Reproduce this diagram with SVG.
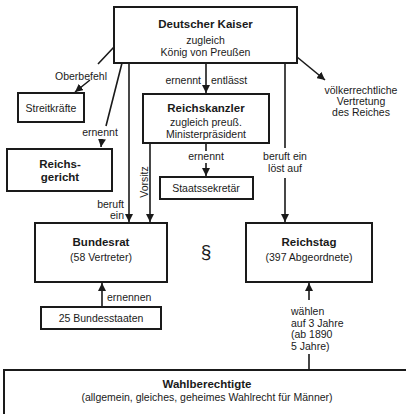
<svg xmlns="http://www.w3.org/2000/svg" width="406" height="414" viewBox="0 0 406 414">
<style>
.box{fill:#fff;stroke:#1a1a1a;stroke-width:2}
.ln{fill:none;stroke:#1a1a1a;stroke-width:1.6}
text{font-family:"Liberation Sans",Arial,sans-serif;font-size:10.5px;fill:#1a1a1a}
.b{font-weight:bold;font-size:11.5px}
.m{text-anchor:middle}
.e{text-anchor:end}
</style>
<defs>
<marker id="ah" markerUnits="userSpaceOnUse" markerWidth="9" markerHeight="8" refX="8" refY="4" orient="auto">
<path d="M0,0 L8,4 L0,8 z" fill="#1a1a1a"/>
</marker>
</defs>
<rect width="406" height="414" fill="#fff"/>
<g id="connectors">
<path class="ln" d="M114,47 L98,64 M90,80 L75,92" marker-end="url(#ah)"/>
<path class="ln" d="M122,63 L106,126 M102,139 L101,147" marker-end="url(#ah)"/>
<path class="ln" d="M129,63 L129,222" marker-end="url(#ah)"/>
<path class="ln" d="M150,143 L150,222" marker-end="url(#ah)"/>
<path class="ln" d="M206,63 L206,93" marker-end="url(#ah)"/>
<path class="ln" d="M206,143 L206,151 M206,163 L206,176" marker-end="url(#ah)"/>
<path class="ln" d="M285,63 L285,148 M285,178 L285,222" marker-end="url(#ah)"/>
<path class="ln" d="M297,57 L325,80" marker-end="url(#ah)"/>
<path class="ln" d="M102,307 L102,283" marker-end="url(#ah)"/>
<path class="ln" d="M309,370 L309,354 M309,300 L309,283" marker-end="url(#ah)"/>
<text x="81" y="80" class="m">Oberbefehl</text>
<text x="100" y="136" class="m">ernennt</text>
<text x="124" y="208" class="e">beruft</text>
<text x="124" y="219" class="e">ein</text>
<text transform="translate(148,182) rotate(-90)" class="m">Vorsitz</text>
<text x="201" y="84" class="e">ernennt</text>
<text x="211" y="84">entlässt</text>
<text x="206" y="160" class="m">ernennt</text>
<text x="285" y="160" class="m">beruft ein</text>
<text x="285" y="172" class="m">löst auf</text>
<text x="107" y="301">ernennen</text>
<text x="291" y="315">wählen</text>
<text x="291" y="327">auf 3 Jahre</text>
<text x="291" y="338">(ab 1890</text>
<text x="291" y="350">5 Jahre)</text>
</g>
<g id="kaiser">
<rect class="box" x="114" y="7" width="183" height="56"/>
<text x="205.5" y="28" class="m b">Deutscher Kaiser</text>
<text x="205.5" y="44" class="m">zugleich</text>
<text x="205.5" y="56" class="m">König von Preußen</text>
</g>
<g id="streitkraefte">
<rect class="box" x="18" y="93" width="66" height="29"/>
<text x="51" y="112" class="m">Streitkräfte</text>
</g>
<g id="voelkerrecht">
<text x="361" y="94" class="m">völkerrechtliche</text>
<text x="361" y="105" class="m">Vertretung</text>
<text x="361" y="116" class="m">des Reiches</text>
</g>
<g id="reichskanzler">
<rect class="box" x="143" y="94" width="126" height="49"/>
<text x="206" y="112" class="m b">Reichskanzler</text>
<text x="206" y="126" class="m">zugleich preuß.</text>
<text x="206" y="138" class="m">Ministerpräsident</text>
</g>
<g id="reichsgericht">
<rect class="box" x="7" y="149" width="105" height="42"/>
<text x="60" y="168" class="m b">Reichs-</text>
<text x="60" y="181" class="m b">gericht</text>
</g>
<g id="staatssekretaer">
<rect class="box" x="160" y="177" width="93" height="22"/>
<text x="206" y="192" class="m">Staatssekretär</text>
</g>
<g id="bundesrat">
<rect class="box" x="35" y="223" width="132" height="59"/>
<text x="101" y="246" class="m b">Bundesrat</text>
<text x="101" y="261" class="m">(58 Vertreter)</text>
</g>
<g id="paragraph">
<text x="206" y="258" class="m" style="font-size:19px">§</text>
</g>
<g id="reichstag">
<rect class="box" x="246" y="223" width="126" height="59"/>
<text x="309" y="246" class="m b">Reichstag</text>
<text x="309" y="261" class="m">(397 Abgeordnete)</text>
</g>
<g id="bundesstaaten">
<rect class="box" x="41" y="307" width="120" height="22"/>
<text x="101" y="322" class="m">25 Bundesstaaten</text>
</g>
<g id="wahlberechtigte">
<rect class="box" x="4" y="370" width="420" height="60"/>
<text x="207" y="388" class="m b">Wahlberechtigte</text>
<text x="207" y="401" class="m">(allgemein, gleiches, geheimes Wahlrecht für Männer)</text>
</g>
</svg>
